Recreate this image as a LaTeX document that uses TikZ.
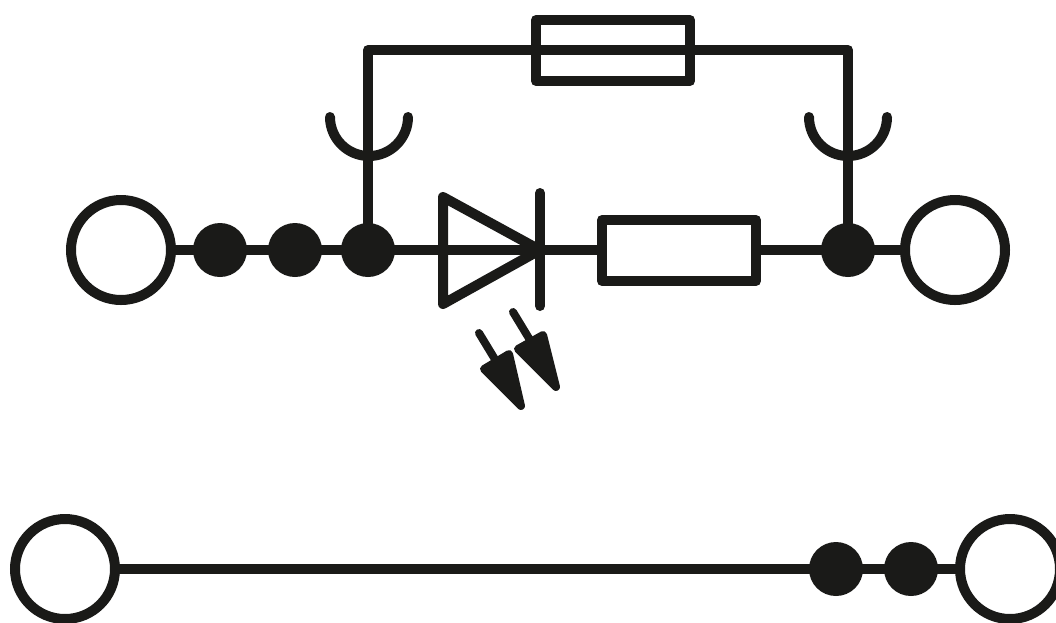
\documentclass[tikz,border=0pt]{standalone}
\definecolor{ink}{HTML}{1A1A18}
\tikzset{
 x=1pt,y=-1pt,
 wire/.style={draw=ink,line width=10pt,line cap=round,line join=round},
 term/.style={circle,draw=ink,line width=10pt,fill=white,minimum size=100pt,inner sep=0pt,outer sep=0pt},
 dotn/.style={circle,fill=ink,minimum size=54pt,inner sep=0pt,outer sep=0pt},
 boxn/.style={draw=ink,line width=10pt,inner sep=0pt,outer sep=0pt,minimum width=154pt,minimum height=61pt,line join=round},
 tipn/.style={draw=ink,fill=ink,line width=8pt,line join=round},
}
\begin{document}
\begin{tikzpicture}
\useasboundingbox (0,0) rectangle (1056,622);
% wires first, symbols on top
\coordinate (c1) at (368,50);
\coordinate (c2) at (848,50);
\coordinate (ka) at (540,250);
\coordinate (t1c) at (121,250);
\coordinate (t2c) at (955,250);
\coordinate (d3c) at (368,250);
\coordinate (d4c) at (848,250);
\draw[wire] (t1c) -- (ka) -- (t2c);
\draw[wire] (d3c) -- (c1) -- (c2) -- (d4c);
% top row
\node[term] (t1) at (121,250) {};
\node[term] (t2) at (955,250) {};
\node[dotn] (d1) at (220,250) {};
\node[dotn] (d2) at (295,250) {};
\node[dotn] (d3) at (d3c) {};
\node[dotn] (d4) at (d4c) {};
\node[boxn] (fuse) at (613,50.5) {};
\node[boxn,fill=white] (res) at (679,250.5) {};
% sockets
\draw[wire] (330,117) arc[start angle=180,end angle=360,x radius=39,y radius=-39];
\draw[wire] (809,117) arc[start angle=180,end angle=360,x radius=39,y radius=-39];
% diode
\draw[wire] (443,197) -- (ka) -- (443,304) -- cycle;
\draw[wire] (540,193) -- (540,306);
% light arrows
\draw[wire,line width=8pt] (479,333) -- (496,361);
\draw[tipn] (484,369) -- (509,354) -- (521,406) -- cycle;
\draw[wire,line width=8pt] (513,312) -- (530,340);
\draw[tipn] (518,349) -- (543,335) -- (556,387) -- cycle;
% bottom row
\coordinate (b1c) at (65,569);
\coordinate (b2c) at (1010,569);
\draw[wire] (b1c) -- (b2c);
\node[term] (b1) at (b1c) {};
\node[term] (b2) at (b2c) {};
\node[dotn] (b3) at (836,569) {};
\node[dotn] (b4) at (911,569) {};
\end{tikzpicture}
\end{document}
